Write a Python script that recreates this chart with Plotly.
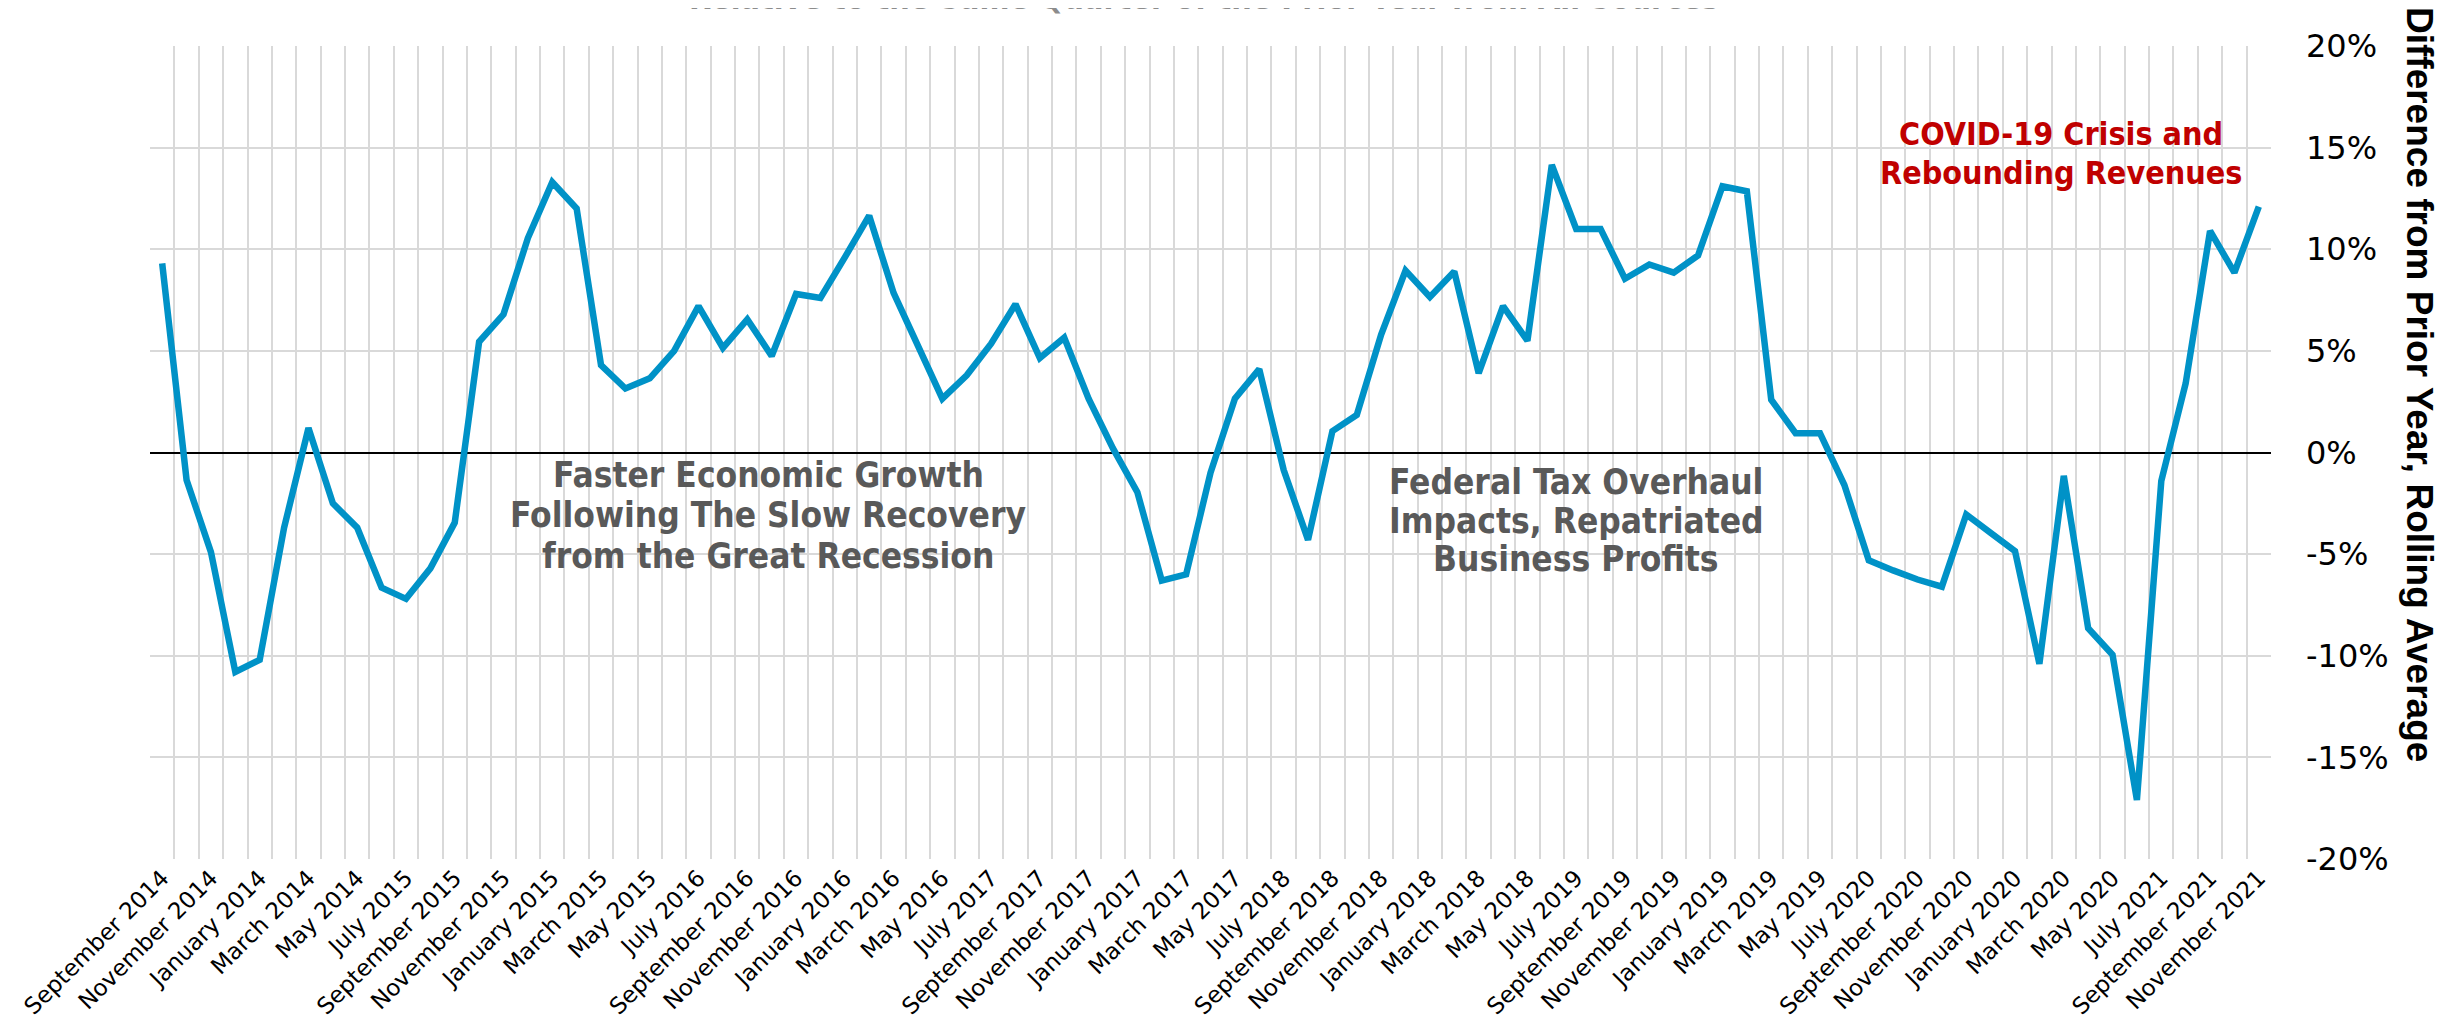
import plotly.graph_objects as go

# ---- data ----
month_cycle = ["September", "October", "November", "December", "January", "February",
               "March", "April", "May", "June", "July", "August"]

tick_labels = [
    "September 2014", "November 2014", "January 2014", "March 2014", "May 2014",
    "July 2015", "September 2015", "November 2015", "January 2015", "March 2015", "May 2015",
    "July 2016", "September 2016", "November 2016", "January 2016", "March 2016", "May 2016",
    "July 2017", "September 2017", "November 2017", "January 2017", "March 2017", "May 2017",
    "July 2018", "September 2018", "November 2018", "January 2018", "March 2018", "May 2018",
    "July 2019", "September 2019", "November 2019", "January 2019", "March 2019", "May 2019",
    "July 2020", "September 2020", "November 2020", "January 2020", "March 2020", "May 2020",
    "July 2021", "September 2021", "November 2021",
]

values = [
    9.3, -1.35, -4.9, -10.8, -10.2, -3.7, 1.2, -2.5, -3.7, -6.65,
    -7.2, -5.7, -3.45, 5.45, 6.8, 10.55, 13.3, 12.0, 4.3, 3.15,
    3.65, 5.0, 7.2, 5.15, 6.55, 4.75, 7.8, 7.6, 9.6, 11.65,
    7.85, 5.25, 2.65, 3.8, 5.35, 7.3, 4.65, 5.65, 2.65, 0.2,
    -1.95, -6.3, -6.0, -1.0, 2.65, 4.1, -0.85, -4.3, 1.05, 1.85,
    5.8, 8.95, 7.65, 8.9, 3.9, 7.2, 5.5, 14.15, 11.0, 11.0,
    8.55, 9.25, 8.85, 9.7, 13.1, 12.85, 2.6, 0.95, 0.95, -1.6,
    -5.3, -5.8, -6.25, -6.6, -3.05, -3.95, -4.85, -10.4, -1.15, -8.65,
    -9.95, -17.1, -1.4, 3.4, 10.9, 8.85, 12.1,
]

y_ticks = [-20, -15, -10, -5, 0, 5, 10, 15, 20]
y_ticktext = ["-20%", "-15%", "-10%", "-5%", "0%", "5%", "10%", "15%", "20%"]

# annotation texts (one entry per line)
note_growth = ["Faster Economic Growth", "Following The Slow Recovery", "from the Great Recession"]
note_tax = ["Federal Tax Overhaul", "Impacts, Repatriated", "Business Profits"]
note_covid = ["COVID-19 Crisis and", "Rebounding Revenues"]

# categories: every month; even ones match the printed labels
categories = []
year = 2014
for i in range(len(values)):
    m = month_cycle[i % 12]
    if m == "July":
        year += 1
    categories.append(f"{m} {year}")
tick_text = []
for i, c in enumerate(categories):
    tick_text.append(tick_labels[i // 2] if i % 2 == 0 else "")

fig = go.Figure()
fig.add_trace(go.Scatter(
    x=categories, y=values, mode="lines",
    line=dict(color="#0092C7", width=6.5),
    showlegend=False, hoverinfo="skip",
))

grid = "#D9D9D9"
fig.update_layout(
    width=2451, height=1031,
    margin=dict(l=142, r=188, t=38, b=180),
    paper_bgcolor="white", plot_bgcolor="white",
    xaxis=dict(
        type="category", range=[-0.5, len(values) - 0.5],
        tickmode="array", tickvals=categories, ticktext=tick_text,
        tickson="boundaries", ticks="",
        showgrid=True, gridcolor=grid, gridwidth=2,
        tickangle=-45, automargin=False,
        tickfont=dict(family="DejaVu Sans", size=23, color="black"),
        showline=False, zeroline=False,
    ),
    yaxis=dict(
        side="right", range=[-20, 20], automargin=False,
        tickmode="array", tickvals=y_ticks, ticktext=y_ticktext,
        showgrid=True, gridcolor=grid, gridwidth=2,
        zeroline=True, zerolinecolor="black", zerolinewidth=2,
        tickfont=dict(family="DejaVu Sans", size=32, color="black"),
        ticks="", ticklabelstandoff=34,
        showline=False,
    ),
)

PLOT_L, PLOT_W, PLOT_B, PLOT_H = 142, 2121, 851, 813


def px_to_paper(xp, yp):
    return (xp - PLOT_L) / PLOT_W, (PLOT_B - yp) / PLOT_H


# y axis title (reads top to bottom)
tx, ty = px_to_paper(2412, 376)
fig.add_annotation(
    text="<b>Difference from Prior Year, Rolling Average</b>",
    xref="paper", yref="paper", x=tx, y=ty,
    xanchor="center", yanchor="middle", textangle=90, showarrow=False,
    font=dict(family="Liberation Sans, Arial, sans-serif", size=37, color="black"),
)

# clipped chart title at the very top
tx, _ = px_to_paper(1196, 0)
fig.add_annotation(
    text="<b>Relative to the Same Quarter of the Prior Year from All Sources</b>",
    xref="paper", yref="paper", x=tx, y=1, yshift=27,
    xanchor="center", yanchor="bottom", showarrow=False,
    font=dict(family="DejaVu Sans Condensed, DejaVu Sans", size=32, color="#8C8C8C"),
)

ann_font = "DejaVu Sans Condensed, DejaVu Sans"


def add_lines(lines, xc, ys, size, color):
    for line, yc in zip(lines, ys):
        ax, ay = px_to_paper(xc, yc)
        fig.add_annotation(
            text=f"<b>{line}</b>", xref="paper", yref="paper", x=ax, y=ay,
            xanchor="center", yanchor="middle", showarrow=False,
            font=dict(family=ann_font, size=size, color=color),
        )


add_lines(note_growth, 760, [467, 507, 548], 35, "#595959")
add_lines(note_tax, 1568, [474, 513, 551], 35, "#595959")
add_lines(note_covid, 2053, [126, 165], 32, "#C00000")

fig.write_html("out.html")
